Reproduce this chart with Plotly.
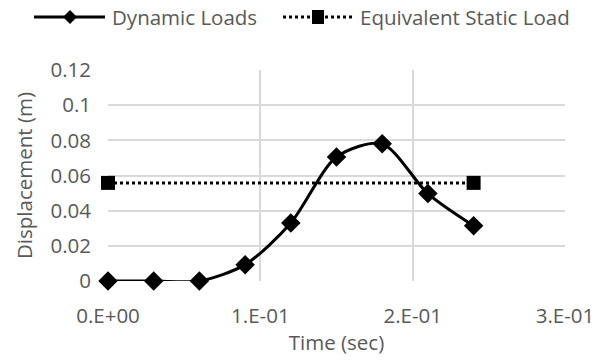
import plotly.graph_objects as go

time_s = [0, 0.03, 0.06, 0.09, 0.12, 0.15, 0.18, 0.21, 0.24]
dynamic_disp = [0, 0, 0, 0.0093, 0.033, 0.0705, 0.078, 0.0497, 0.0314]
static_time = [0, 0.24]
static_disp = [0.0558, 0.0558]

x_tickvals = [0, 0.1, 0.2, 0.3]
x_ticktext = ["0.E+00", "1.E-01", "2.E-01", "3.E-01"]
y_tickvals = [0, 0.02, 0.04, 0.06, 0.08, 0.1, 0.12]
y_ticktext = ["0", "0.02", "0.04", "0.06", "0.08", "0.1", "0.12"]
series_names = ["Dynamic Loads", "Equivalent Static Load"]

FONT = "Open Sans, sans-serif"
GREY = "#595959"
FS = 20.5

# layout geometry (pixels)
W, H = 606, 364
ML, MR, MT, MB = 108, 41, 70, 83
PW, PH = W - ML - MR, H - MT - MB


def px(xp):
    return (xp - ML) / PW


def py(yp):
    return (H - MB - yp) / PH


fig = go.Figure()
fig.add_trace(go.Scatter(
    x=time_s, y=dynamic_disp, name=series_names[0], mode="lines+markers",
    line=dict(color="black", width=3, shape="spline", smoothing=0.8),
    marker=dict(symbol="diamond", size=15, color="black"), cliponaxis=False,
))
fig.add_trace(go.Scatter(
    x=static_time, y=static_disp, name=series_names[1], mode="lines+markers",
    line=dict(color="black", width=3, dash="dot"),
    marker=dict(symbol="square", size=14, color="black"), cliponaxis=False,
))

# custom legend (wider symbols like the reference)
LY = 17
shapes = [
    dict(type="line", xref="paper", yref="paper", x0=px(34), x1=px(105), y0=py(LY), y1=py(LY),
         line=dict(color="black", width=3)),
    dict(type="path", xref="paper", yref="paper", xsizemode="pixel", ysizemode="pixel",
         xanchor=px(70), yanchor=py(LY), path="M -7 0 L 0 7 L 7 0 L 0 -7 Z",
         fillcolor="black", line=dict(color="black", width=0)),
    dict(type="line", xref="paper", yref="paper", x0=px(283), x1=px(352), y0=py(LY), y1=py(LY),
         line=dict(color="black", width=3, dash="dot")),
    dict(type="path", xref="paper", yref="paper", xsizemode="pixel", ysizemode="pixel",
         xanchor=px(318), yanchor=py(LY), path="M -6 -7 L 6 -7 L 6 7 L -6 7 Z",
         fillcolor="black", line=dict(color="black", width=0)),
]
annotations = [
    dict(text=series_names[0], xref="paper", yref="paper", x=px(110), y=py(LY),
         xanchor="left", yanchor="middle", showarrow=False,
         font=dict(family=FONT, size=FS, color=GREY)),
    dict(text=series_names[1], xref="paper", yref="paper", x=px(358), y=py(LY),
         xanchor="left", yanchor="middle", showarrow=False,
         font=dict(family=FONT, size=FS, color=GREY)),
]

fig.update_layout(
    width=W, height=H,
    margin=dict(l=ML, r=MR, t=MT, b=MB, autoexpand=False),
    paper_bgcolor="white", plot_bgcolor="white",
    font=dict(family=FONT, size=FS, color=GREY),
    showlegend=False,
    shapes=shapes, annotations=annotations,
    xaxis=dict(range=[0, 0.3], tickvals=x_tickvals, ticktext=x_ticktext,
               showgrid=True, gridcolor="#d9d9d9", gridwidth=1.5,
               zeroline=False, showline=False, ticks="", automargin=False,
               title=dict(text="Time (sec)", font=dict(size=FS, color=GREY), standoff=4)),
    yaxis=dict(range=[0, 0.12], tickvals=y_tickvals, ticktext=y_ticktext,
               showgrid=True, gridcolor="#d9d9d9", gridwidth=1.5,
               zeroline=False, showline=False, ticks="", automargin=False,
               title=dict(text="Displacement (m)", font=dict(size=FS, color=GREY), standoff=12)),
)
fig.update_xaxes(ticklabelstandoff=20)
fig.update_yaxes(ticklabelstandoff=16)

fig.write_html("out.html")
